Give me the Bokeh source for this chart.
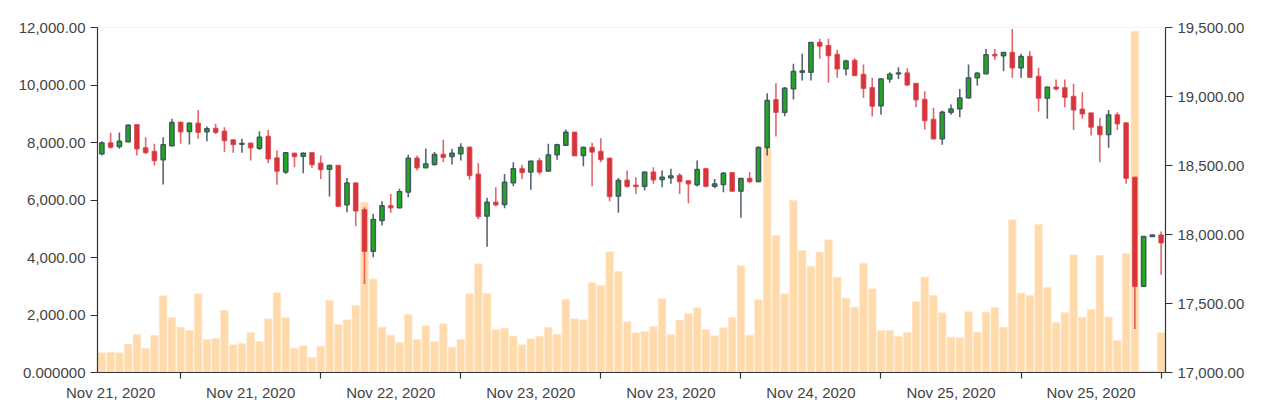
from bokeh.plotting import figure
from bokeh.models import Range1d, LinearAxis, FixedTicker, NumeralTickFormatter, ColumnDataSource
from bokeh.embed import file_html
from bokeh.resources import INLINE

# ---------------- data ----------------
opens = [18584, 18664, 18638, 18671, 18795, 18628, 18601, 18541, 18642, 18814,
         18746, 18807, 18744, 18768, 18749, 18686, 18654, 18662, 18625, 18710,
         18555, 18452, 18589, 18567, 18592, 18517, 18473, 18500, 18215, 18374,
         18179, 17879, 18101, 18208, 18193, 18307, 18553, 18483, 18507, 18580,
         18565, 18584, 18633, 18437, 18133, 18234, 18217, 18374, 18476, 18452,
         18534, 18459, 18577, 18647, 18741, 18572, 18630, 18601, 18553, 18278,
         18394, 18357, 18350, 18452, 18398, 18410, 18427, 18389, 18360, 18476,
         18350, 18362, 18447, 18314, 18406, 18384, 18630, 18976, 18886, 19055,
         19176, 19176, 19391, 19369, 19304, 19200, 19261, 19159, 19063, 18932,
         19126, 19164, 19171, 19094, 18978, 18833, 18693, 18886, 18910, 18990,
         19135, 19164, 19304, 19295, 19319, 19208, 19290, 19145, 18988, 19068,
         19063, 19000, 18908, 18881, 18783, 18725, 18867, 18809, 18415, 17625,
         17985, 17997]

highs = [18676, 18737, 18739, 18797, 18797, 18705, 18657, 18705, 18838, 18816,
         18814, 18903, 18783, 18802, 18778, 18688, 18693, 18664, 18749, 18758,
         18609, 18597, 18591, 18594, 18594, 18572, 18505, 18502, 18410, 18376,
         18198, 18150, 18241, 18294, 18331, 18577, 18572, 18623, 18597, 18686,
         18621, 18662, 18635, 18517, 18266, 18343, 18439, 18524, 18505, 18536,
         18555, 18657, 18657, 18761, 18743, 18638, 18664, 18698, 18555, 18410,
         18464, 18415, 18459, 18488, 18464, 18476, 18444, 18391, 18536, 18483,
         18403, 18452, 18449, 18410, 18452, 18638, 19024, 19096, 19068, 19237,
         19309, 19393, 19418, 19418, 19338, 19266, 19278, 19232, 19135, 19130,
         19176, 19212, 19205, 19096, 19038, 18918, 18898, 18942, 19055, 19232,
         19176, 19345, 19345, 19321, 19490, 19309, 19328, 19208, 19072, 19123,
         19123, 19092, 19031, 18883, 18845, 18903, 18886, 18811, 18417, 17987,
         17999, 18022]

lows = [18572, 18621, 18621, 18669, 18572, 18584, 18500, 18362, 18640, 18657,
        18652, 18693, 18676, 18729, 18597, 18592, 18592, 18536, 18613, 18517,
        18360, 18439, 18488, 18444, 18483, 18403, 18275, 18198, 18162, 18060,
        17642, 17836, 18065, 18157, 18190, 18270, 18464, 18481, 18500, 18524,
        18507, 18536, 18396, 18111, 17912, 18205, 18191, 18350, 18403, 18324,
        18435, 18457, 18541, 18642, 18568, 18495, 18350, 18524, 18241, 18157,
        18338, 18294, 18319, 18367, 18343, 18367, 18294, 18227, 18348, 18343,
        18336, 18307, 18312, 18121, 18374, 18379, 18572, 18710, 18857, 18978,
        19116, 19116, 19273, 19099, 19135, 19152, 19150, 18990, 18855, 18867,
        19099, 19126, 19075, 18923, 18761, 18688, 18650, 18867, 18850, 18983,
        19080, 19162, 19266, 19183, 19135, 19135, 19135, 18891, 18838, 19043,
        18923, 18758, 18838, 18717, 18524, 18628, 18758, 18367, 17316, 17623,
        17983, 17708]

closes = [18664, 18633, 18676, 18792, 18621, 18594, 18536, 18650, 18812, 18744,
          18807, 18741, 18766, 18741, 18681, 18652, 18659, 18628, 18705, 18548,
          18459, 18592, 18565, 18589, 18507, 18471, 18500, 18205, 18374, 18171,
          17879, 18109, 18208, 18193, 18311, 18553, 18483, 18512, 18580, 18560,
          18589, 18630, 18427, 18130, 18234, 18215, 18379, 18476, 18449, 18531,
          18452, 18577, 18650, 18741, 18570, 18630, 18597, 18543, 18275, 18391,
          18350, 18348, 18452, 18396, 18415, 18425, 18384, 18367, 18471, 18350,
          18367, 18444, 18314, 18406, 18384, 18630, 18971, 18886, 19060, 19181,
          19186, 19391, 19365, 19297, 19200, 19258, 19152, 19060, 18930, 19128,
          19162, 19171, 19084, 18976, 18826, 18693, 18886, 18910, 18990, 19135,
          19169, 19302, 19295, 19319, 19208, 19290, 19140, 18988, 19068, 19055,
          18995, 18903, 18874, 18778, 18725, 18867, 18802, 18408, 17625, 17985,
          17997, 17940]

volumes = [684, 707, 684, 985, 1321, 835, 1287, 2666, 1913, 1577,
           1461, 2736, 1148, 1182, 2168, 962, 1008, 1391, 1078, 1866,
           2771, 1901, 846, 927, 521, 904, 2504, 1669, 1832, 2330,
           5924, 3246, 1577, 1298, 1043, 2017, 1148, 1623, 1078, 1692,
           881, 1148, 2736, 3779, 2748, 1484, 1542, 1263, 962, 1171,
           1263, 1565, 1333, 2539, 1866, 1832, 3119, 3026, 4197, 3513,
           1762, 1379, 1426, 1600, 2562, 1321, 1820, 2052, 2249, 1495,
           1275, 1553, 1913, 3710, 1298, 2527, 7826, 4765, 2736, 5982,
           4243, 3698, 4185, 4614, 3316, 2585, 2272, 3803, 2910, 1461,
           1461, 1252, 1391, 2458, 3316, 2678, 2075, 1229, 1206, 2110,
           1403, 2098, 2261, 1577, 5310, 2759, 2678, 5147, 2956, 1739,
           2087, 4092, 1924, 2191, 4069, 1924, 1113, 4139, 11872, 46,
           46, 1379]

date_labels = ["Nov 21, 2020", "Nov 21, 2020", "Nov 22, 2020", "Nov 23, 2020",
               "Nov 23, 2020", "Nov 24, 2020", "Nov 25, 2020", "Nov 25, 2020"]

volume_ticks = [0, 2000, 4000, 6000, 8000, 10000, 12000]
price_ticks = [17000, 17500, 18000, 18500, 19000, 19500]

# ---------------- build ----------------
n = len(opens)
idx = list(range(n))
up = [c >= o for o, c in zip(opens, closes)]

def subset(mask):
    return ColumnDataSource(dict(
        x=[i for i in idx if mask[i]],
        top=[max(opens[i], closes[i]) for i in idx if mask[i]],
        bottom=[min(opens[i], closes[i]) for i in idx if mask[i]],
        high=[highs[i] for i in idx if mask[i]],
        low=[lows[i] for i in idx if mask[i]],
    ))

src_up = subset(up)
src_dn = subset([not u for u in up])
src_vol = ColumnDataSource(dict(x=idx, v=volumes))

W, H = 1250, 408
FL, FT, FB = 97, 27, 36
FR = W - FL - 1068

p = figure(width=W, height=H, output_backend="svg", toolbar_location=None,
           x_range=Range1d(-0.5, n - 0.5), y_range=Range1d(price_ticks[0], price_ticks[-1]),
           y_axis_location="right",
           min_border_left=FL, min_border_right=FR, min_border_top=FT, min_border_bottom=FB)
p.extra_y_ranges = {"vol": Range1d(volume_ticks[0], volume_ticks[-1])}
p.grid.visible = False
p.outline_line_color = "#fdf0dc"
p.background_fill_color = "white"
p.border_fill_color = "white"

FONT = "Liberation Sans"
LABEL_COLOR = "#444444"
AXIS_COLOR = "#333333"

# right (price) axis
ya = p.yaxis[0]
ya.ticker = FixedTicker(ticks=price_ticks)
ya.formatter = NumeralTickFormatter(format="0,0.00")
ya.minor_tick_line_color = None

# left (volume) axis
la = LinearAxis(y_range_name="vol", ticker=FixedTicker(ticks=volume_ticks),
                formatter=NumeralTickFormatter(format="0,0.00"))
la.major_label_overrides = {0: "0.000000"}
la.minor_tick_line_color = None
p.add_layout(la, "left")

for ax in (ya, la):
    ax.axis_line_color = AXIS_COLOR
    ax.axis_line_width = 1.2
    ax.major_tick_line_color = AXIS_COLOR
    ax.major_tick_out = 7
    ax.major_tick_in = 0
    ax.major_label_standoff = 5
    ax.major_label_text_font = FONT
    ax.major_label_text_font_size = "15px"
    ax.major_label_text_color = LABEL_COLOR

# bottom axis: labels between boundary ticks
per = 16
label_pos = [1 + per * k for k in range(len(date_labels))]
tick_pos = [9 + per * k for k in range(len(date_labels))]
xa = p.xaxis[0]
xa.ticker = FixedTicker(ticks=label_pos, minor_ticks=tick_pos)
xa.major_label_overrides = {pos: lab for pos, lab in zip(label_pos, date_labels)}
xa.major_tick_line_color = None
xa.major_tick_out = 6
xa.major_tick_in = 0
xa.minor_tick_line_color = AXIS_COLOR
xa.minor_tick_out = 6
xa.minor_tick_in = 0
xa.minor_tick_line_width = 1.2
xa.axis_line_color = AXIS_COLOR
xa.axis_line_width = 1.2
xa.major_label_standoff = 5
xa.major_label_text_font = FONT
xa.major_label_text_font_size = "15px"
xa.major_label_text_color = LABEL_COLOR

# volume bars (behind)
p.vbar(x="x", top="v", bottom=0, width=0.86, source=src_vol, y_range_name="vol",
       fill_color="#ffdaab", line_color="#ffe6c6", line_width=0.6)

GREEN = "#20a820"
RED = "#d8343c"
SLATE = "#3a4b5c"

# wicks
p.segment(x0="x", y0="high", x1="x", y1="low", source=src_up,
          line_color=SLATE, line_width=1.6, line_alpha=0.85)
p.segment(x0="x", y0="high", x1="x", y1="low", source=src_dn,
          line_color=RED, line_width=1.6, line_alpha=0.75)

# bodies
p.vbar(x="x", top="top", bottom="bottom", width=0.5, source=src_up,
       fill_color=GREEN, line_color=SLATE, line_width=1.4, line_alpha=0.9)
p.vbar(x="x", top="top", bottom="bottom", width=0.5, source=src_dn,
       fill_color=RED, line_color=RED, line_width=1.4, line_alpha=0.7)

open("out.html", "w").write(file_html(p, INLINE))
